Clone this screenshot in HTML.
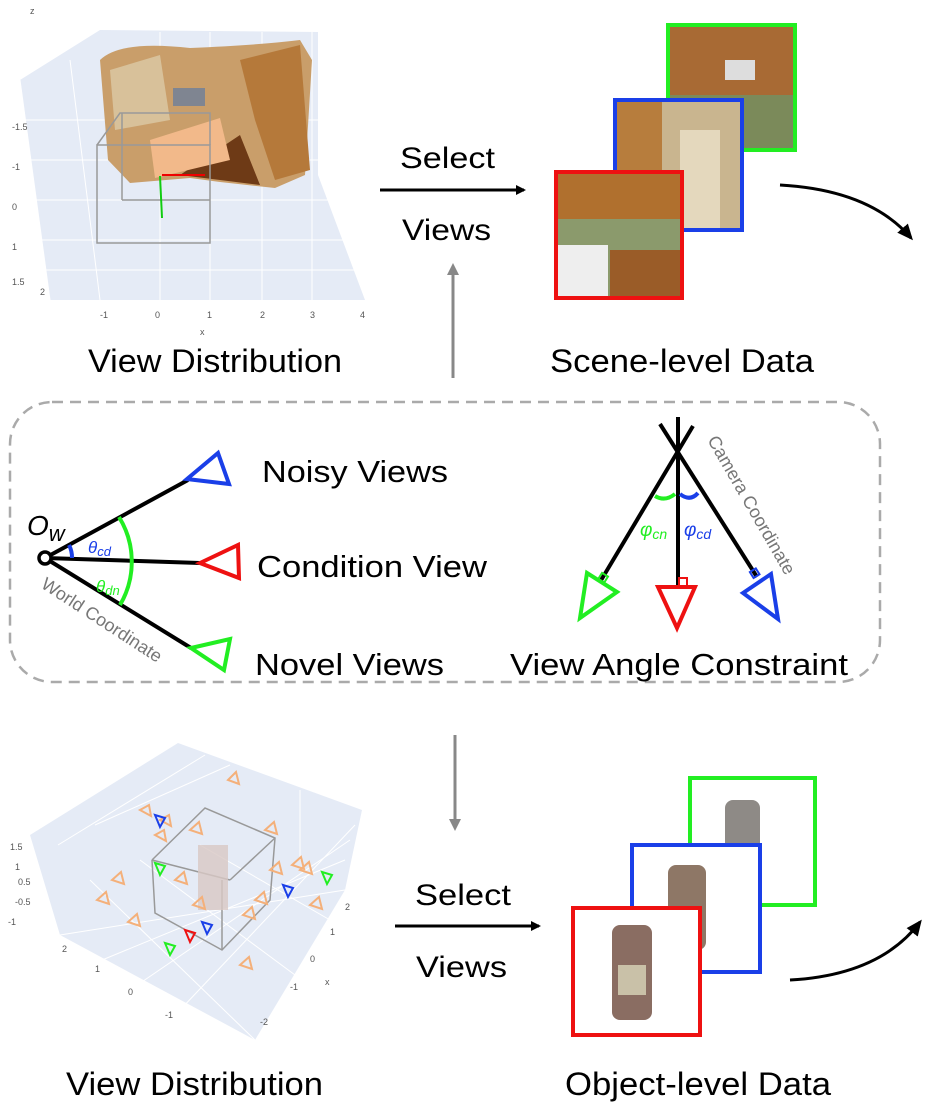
<!DOCTYPE html>
<html><head><meta charset="utf-8"><style>
html,body{margin:0;padding:0;background:#fff}
svg{display:block}
text{font-family:"Liberation Sans",sans-serif}
</style></head><body>
<svg width="926" height="1108" viewBox="0 0 926 1108" xmlns="http://www.w3.org/2000/svg">
<defs>
<marker id="ah" markerWidth="10" markerHeight="10" refX="8" refY="5" orient="auto" markerUnits="userSpaceOnUse"><path d="M0,0 L10,5 L0,10 z" fill="#000"/></marker>
<marker id="ahg" markerWidth="12" markerHeight="12" refX="9" refY="6" orient="auto" markerUnits="userSpaceOnUse"><path d="M0,0 L12,6 L0,12 z" fill="#888"/></marker>
<marker id="ahb" markerWidth="16" markerHeight="14" refX="13" refY="7" orient="auto" markerUnits="userSpaceOnUse"><path d="M0,0 L16,7 L0,14 z" fill="#000"/></marker>
</defs>

<!-- TOP LEFT PLOT -->
<polygon points="20,80 100,30 318,32 318,175 365,300 50,300" fill="#e5ebf6"/>
<g stroke="#fff" stroke-width="1">
<line x1="50" y1="300" x2="20" y2="80"/><line x1="100" y1="300" x2="70" y2="60"/>
<line x1="160" y1="300" x2="160" y2="32"/><line x1="210" y1="300" x2="210" y2="32"/>
<line x1="262" y1="300" x2="262" y2="32"/><line x1="312" y1="300" x2="312" y2="32"/>
<line x1="20" y1="120" x2="318" y2="120"/><line x1="25" y1="160" x2="330" y2="160"/>
<line x1="30" y1="200" x2="340" y2="200"/><line x1="38" y1="240" x2="350" y2="240"/><line x1="45" y1="270" x2="358" y2="270"/>
</g>
<path d="M100,60 Q120,40 190,48 Q260,45 300,40 L312,60 L305,175 L275,188 L220,182 L190,178 L130,183 L108,160 Z" fill="#c99e6a"/>
<path d="M110,70 L160,55 L170,120 L115,130 Z" fill="#d8c19a"/>
<path d="M240,60 L300,45 L310,170 L275,180 L255,120 Z" fill="#b5793a"/>
<path d="M180,175 L240,135 L260,185 Z" fill="#6e3a16"/>
<path d="M150,140 L220,118 L230,160 L155,178 Z" fill="#f2b98a"/>
<rect x="173" y="88" width="32" height="18" fill="#7f8591"/>
<g fill="none" stroke="#999" stroke-width="1.5">
<rect x="97" y="145" width="113" height="98"/><polyline points="97,145 120,113 210,113 210,145"/>
<line x1="122" y1="113" x2="122" y2="200"/><line x1="122" y1="200" x2="210" y2="200"/>
</g>
<line x1="162" y1="175" x2="205" y2="175" stroke="#e00" stroke-width="2"/>
<line x1="160" y1="176" x2="162" y2="218" stroke="#1c1" stroke-width="2"/>
<g font-size="9" fill="#555">
<text x="40" y="295">2</text><text x="100" y="318">-1</text><text x="155" y="318">0</text><text x="207" y="318">1</text><text x="260" y="318">2</text><text x="310" y="318">3</text><text x="360" y="318">4</text>
<text x="200" y="335">x</text><text x="12" y="130">-1.5</text><text x="12" y="170">-1</text><text x="12" y="210">0</text><text x="12" y="250">1</text><text x="12" y="285">1.5</text><text x="30" y="14">z</text>
</g>
<text x="88" y="372" font-size="32" textLength="254" lengthAdjust="spacingAndGlyphs">View Distribution</text>

<!-- top select arrow -->
<text x="400" y="168" font-size="30" textLength="95" lengthAdjust="spacingAndGlyphs">Select</text>
<line x1="380" y1="190" x2="524" y2="190" stroke="#000" stroke-width="3" marker-end="url(#ah)"/>
<text x="402" y="240" font-size="30" textLength="89" lengthAdjust="spacingAndGlyphs">Views</text>

<!-- scene photos -->
<g>
<rect x="668" y="25" width="127" height="125" fill="#a86a34"/>
<rect x="670" y="95" width="123" height="53" fill="#7b8a5a"/>
<rect x="725" y="60" width="30" height="20" fill="#ddd"/>
<rect x="668" y="25" width="127" height="125" fill="none" stroke="#2e2" stroke-width="4"/>
<rect x="615" y="100" width="127" height="130" fill="#c9b58f"/>
<rect x="617" y="102" width="45" height="126" fill="#b77d3d"/>
<rect x="680" y="130" width="40" height="98" fill="#e4d8bd"/>
<rect x="615" y="100" width="127" height="130" fill="none" stroke="#1a3fe8" stroke-width="4"/>
<rect x="556" y="172" width="126" height="126" fill="#8b9a6c"/>
<rect x="558" y="174" width="122" height="45" fill="#b0702e"/>
<rect x="558" y="245" width="50" height="51" fill="#eee"/>
<rect x="610" y="250" width="70" height="46" fill="#9a5c28"/>
<rect x="556" y="172" width="126" height="126" fill="none" stroke="#e11" stroke-width="4"/>
</g>
<path d="M780,185 Q870,190 911,238" fill="none" stroke="#000" stroke-width="3" marker-end="url(#ahb)"/>
<text x="550" y="372" font-size="32" textLength="264" lengthAdjust="spacingAndGlyphs">Scene-level Data</text>

<!-- gray arrows -->
<line x1="453" y1="378" x2="453" y2="266" stroke="#888" stroke-width="3" marker-end="url(#ahg)"/>
<line x1="455" y1="735" x2="455" y2="828" stroke="#888" stroke-width="3" marker-end="url(#ahg)"/>

<!-- dashed box -->
<rect x="10" y="402" width="870" height="280" rx="42" fill="none" stroke="#aaa" stroke-width="2.5" stroke-dasharray="11 7"/>

<!-- left diagram -->
<g stroke-width="4" fill="none">
<line x1="45" y1="558" x2="188" y2="480" stroke="#000"/>
<line x1="45" y1="558" x2="200" y2="563" stroke="#000"/>
<line x1="45" y1="558" x2="191" y2="648" stroke="#000"/>
<polygon points="187,479 218,453 229,484" stroke="#1a3fe8"/>
<polygon points="200,563 238,545 239,578" stroke="#e11"/>
<polygon points="191,648 230,639 224,670" stroke="#2e2"/>
<path d="M119,517 A85,85 0 0 1 120,605" stroke="#2e2"/>
<path d="M69,545 A27,27 0 0 1 72,558" stroke="#1a3fe8"/>
</g>
<circle cx="45" cy="558" r="6" fill="#fff" stroke="#000" stroke-width="3.5"/>
<text x="27" y="535" font-size="28" font-style="italic" font-family="Liberation Serif,serif">O<tspan font-size="22" dy="6">w</tspan></text>
<text x="88" y="553" font-size="17" font-style="italic" fill="#1a3fe8" font-family="Liberation Serif,serif">θ<tspan font-size="13" dy="3">cd</tspan></text>
<text x="96" y="592" font-size="17" font-style="italic" fill="#2e2" font-family="Liberation Serif,serif">θ<tspan font-size="13" dy="3">dn</tspan></text>
<text x="0" y="0" font-size="18" fill="#777" transform="translate(40,587) rotate(33)">World Coordinate</text>
<text x="262" y="482" font-size="31" textLength="186" lengthAdjust="spacingAndGlyphs">Noisy Views</text>
<text x="257" y="577" font-size="31" textLength="230" lengthAdjust="spacingAndGlyphs">Condition View</text>
<text x="255" y="675" font-size="31" textLength="189" lengthAdjust="spacingAndGlyphs">Novel Views</text>

<!-- right diagram -->
<g stroke="#000" stroke-width="4" fill="none">
<line x1="678" y1="417" x2="678" y2="588"/>
<line x1="693" y1="426" x2="600" y2="582"/>
<line x1="660" y1="424" x2="757" y2="577"/>
</g>
<g stroke-width="4" fill="none">
<polygon points="587,573 617,592 580,618" stroke="#2e2"/>
<polygon points="658,587 695,587 677,628" stroke="#e11"/>
<polygon points="743,593 771,574 778,619" stroke="#1a3fe8"/>
<rect x="679" y="578" width="8" height="8" stroke="#e11" stroke-width="2"/>
<rect x="600" y="574" width="7" height="7" stroke="#2e2" stroke-width="2" transform="rotate(32 603 577)"/>
<rect x="751" y="570" width="7" height="7" stroke="#1a3fe8" stroke-width="2" transform="rotate(-32 754 573)"/>
<path d="M655,496 Q665,502 675,494" stroke="#2e2"/>
<path d="M680,494 Q690,502 698,493" stroke="#1a3fe8"/>
</g>
<text x="640" y="536" font-size="19" font-style="italic" fill="#2e2" font-family="Liberation Serif,serif">φ<tspan font-size="14" dy="3">cn</tspan></text>
<text x="684" y="536" font-size="19" font-style="italic" fill="#1a3fe8" font-family="Liberation Serif,serif">φ<tspan font-size="14" dy="3">cd</tspan></text>
<text x="0" y="0" font-size="18" fill="#777" transform="translate(707,440) rotate(60)">Camera Coordinate</text>
<text x="510" y="675" font-size="31" textLength="338" lengthAdjust="spacingAndGlyphs">View Angle Constraint</text>

<!-- BOTTOM LEFT PLOT -->
<polygon points="30,835 178,743 362,810 345,890 255,1040 60,935" fill="#e5ebf6"/>
<g stroke="#fff" stroke-width="1">
<line x1="60" y1="935" x2="345" y2="890"/><line x1="90" y1="965" x2="345" y2="860"/>
<line x1="130" y1="990" x2="350" y2="840"/><line x1="180" y1="1010" x2="355" y2="825"/>
<line x1="90" y1="880" x2="255" y2="1040"/><line x1="140" y1="860" x2="295" y2="975"/>
<line x1="200" y1="845" x2="330" y2="920"/><line x1="58" y1="845" x2="205" y2="755"/>
<line x1="95" y1="825" x2="230" y2="765"/><line x1="300" y1="790" x2="300" y2="860"/>
</g>
<g fill="none" stroke="#999" stroke-width="1.5">
<polyline points="152,860 205,808 275,838 270,900 222,950 155,913 152,860"/>
<line x1="152" y1="860" x2="230" y2="880"/><line x1="230" y1="880" x2="275" y2="838"/><line x1="222" y1="950" x2="222" y2="880"/>
</g>
<rect x="198" y="845" width="30" height="65" fill="#d8c8c4" opacity="0.8"/>
<g fill="none" stroke="#f4b07a" stroke-width="2">
<path d="M228,780 l8,-8 l3,12 z"/><path d="M140,810 l9,-5 l2,11 z"/><path d="M160,820 l9,-5 l2,11 z"/><path d="M155,835 l9,-5 l2,11 z"/>
<path d="M112,880 l9,-8 l3,12 z"/><path d="M97,900 l9,-8 l3,12 z"/><path d="M128,922 l9,-8 l3,12 z"/><path d="M175,880 l9,-8 l3,12 z"/>
<path d="M265,830 l9,-8 l3,12 z"/><path d="M270,870 l9,-8 l3,12 z"/><path d="M292,865 l9,-8 l3,12 z"/><path d="M300,870 l9,-8 l3,12 z"/>
<path d="M255,900 l9,-8 l3,12 z"/><path d="M243,915 l9,-8 l3,12 z"/><path d="M310,905 l9,-8 l3,12 z"/><path d="M240,965 l9,-8 l3,12 z"/>
<path d="M193,905 l9,-8 l3,12 z"/><path d="M190,830 l9,-8 l3,12 z"/>
</g>
<g fill="none" stroke-width="2">
<path d="M155,815 l10,3 l-5,9 z" stroke="#1a3fe8"/><path d="M202,922 l10,3 l-5,9 z" stroke="#1a3fe8"/><path d="M283,885 l10,3 l-5,9 z" stroke="#1a3fe8"/>
<path d="M155,863 l10,3 l-5,9 z" stroke="#2e2"/><path d="M165,943 l10,3 l-5,9 z" stroke="#2e2"/><path d="M322,872 l10,3 l-5,9 z" stroke="#2e2"/>
<path d="M185,930 l10,3 l-5,9 z" stroke="#e11"/>
</g>
<g font-size="9" fill="#555">
<text x="10" y="850">1.5</text><text x="15" y="870">1</text><text x="18" y="885">0.5</text><text x="15" y="905">-0.5</text><text x="8" y="925">-1</text>
<text x="62" y="952">2</text><text x="95" y="972">1</text><text x="128" y="995">0</text><text x="165" y="1018">-1</text>
<text x="345" y="910">2</text><text x="330" y="935">1</text><text x="310" y="962">0</text><text x="325" y="985">x</text><text x="290" y="990">-1</text><text x="260" y="1025">-2</text>
</g>
<text x="66" y="1095" font-size="32" textLength="257" lengthAdjust="spacingAndGlyphs">View Distribution</text>

<!-- bottom select -->
<text x="415" y="905" font-size="30" textLength="96" lengthAdjust="spacingAndGlyphs">Select</text>
<line x1="395" y1="926" x2="539" y2="926" stroke="#000" stroke-width="3" marker-end="url(#ah)"/>
<text x="416" y="977" font-size="30" textLength="91" lengthAdjust="spacingAndGlyphs">Views</text>

<!-- object photos -->
<g>
<rect x="690" y="778" width="125" height="127" fill="#fff" stroke="#2e2" stroke-width="4"/>
<rect x="725" y="800" width="35" height="80" rx="8" fill="#8e8a86"/>
<rect x="632" y="845" width="128" height="127" fill="#fff" stroke="#1a3fe8" stroke-width="4"/>
<rect x="668" y="865" width="38" height="85" rx="8" fill="#8e7766"/>
<rect x="573" y="908" width="127" height="127" fill="#fff" stroke="#e11" stroke-width="4"/>
<rect x="612" y="925" width="40" height="95" rx="8" fill="#8a6d62"/>
<rect x="618" y="965" width="28" height="30" fill="#c9c1a8"/>
</g>
<path d="M790,980 Q880,975 920,922" fill="none" stroke="#000" stroke-width="3" marker-end="url(#ahb)"/>
<text x="565" y="1095" font-size="32" textLength="266" lengthAdjust="spacingAndGlyphs">Object-level Data</text>
</svg>
</body></html>
